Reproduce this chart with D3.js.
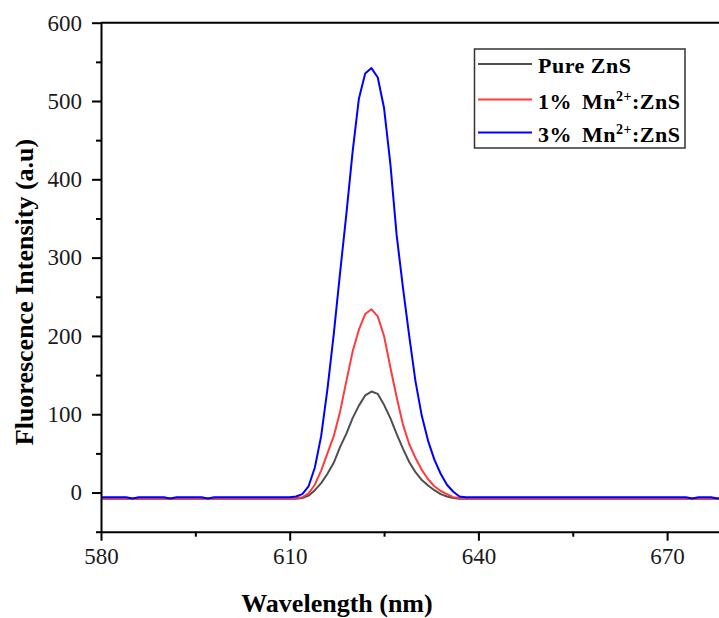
<!DOCTYPE html>
<html>
<head>
<meta charset="utf-8">
<script src="https://cdn.jsdelivr.net/npm/d3@7"></script>
<style>
  html, body { margin: 0; padding: 0; background: #fff; }
  svg { display: block; }
  text { font-family: "Liberation Serif", "Times New Roman", serif; }
</style>
</head>
<body>
<svg id="chart" width="719" height="618"></svg>
<script>
// ---------------- data ----------------
const wavelengths = [580, 584, 585, 586, 590, 591, 592, 596, 597, 598, 602, 606, 609,
  610, 611, 612, 613, 614, 615, 616, 617, 618, 619, 620, 621, 622, 623, 624, 625, 626,
  627, 628, 629, 630, 631, 632, 633, 634, 635, 636, 637, 638,
  640, 645, 650, 655, 660, 665, 670, 673, 674, 675, 677, 678, 680];

const pureZnS = [-8, -8, -8, -8, -8, -8, -8, -8, -8, -8, -8, -8, -8,
  -8, -8, -7, -4, 3, 12, 24, 38, 58, 75, 95, 111, 124, 129, 126, 112, 95,
  75, 56, 39, 26, 16, 9, 3, -2, -5, -7, -8, -8,
  -8, -8, -8, -8, -8, -8, -8, -8, -8, -8, -8, -8, -8];

const mn1ZnS = [-7.5, -7.5, -7.5, -7.5, -7.5, -7.5, -7.5, -7.5, -7.5, -7.5, -7.5, -7.5, -7.5,
  -7.5, -7, -6, -1, 10, 28, 50, 72, 103, 142, 180, 208, 228, 234, 225, 200, 160,
  122, 87, 62, 44, 29, 17, 8, 2, -2, -6, -7, -7.5,
  -7.5, -7.5, -7.5, -7.5, -7.5, -7.5, -7.5, -7.5, -7.5, -7.5, -7.5, -7.5, -7.5];

const mn3ZnS = [-6, -6, -7.5, -6, -6, -7.5, -6, -6, -7.5, -6, -6, -6, -6,
  -6, -5, -2, 8, 32, 72, 132, 202, 280, 355, 435, 503, 535, 542, 530, 491, 420,
  329, 262, 200, 142, 98, 66, 42, 24, 10, 1, -5, -6,
  -6, -6, -6, -6, -6, -6, -6, -6, -7.5, -6, -6, -7.5, -6];

const seriesNames = ["Pure ZnS", "1% Mn", "3% Mn"];
const seriesColors = ["#4f4f4f", "#ff3b3b", "#0000ff"];
const xTickValues = [580, 610, 640, 670];
const xMinorTicks = [595, 625, 655];
const yTickValues = [0, 100, 200, 300, 400, 500, 600];
const yMinorTicks = [-50, 50, 150, 250, 350, 450, 550];

// ---------------- layout ----------------
const svg = d3.select("#chart");
const x = d3.scaleLinear().domain([580, 680]).range([101, 730]);
const y = d3.scaleLinear().domain([-50, 600]).range([531.7, 22.7]);

// top border
svg.append("line")
  .attr("x1", x(580)).attr("x2", 730)
  .attr("y1", y(600)).attr("y2", y(600))
  .attr("stroke", "#000").attr("stroke-width", 2);

// curves
const line = d3.line().x((d, i) => x(wavelengths[i])).y(d => y(d));
[pureZnS, mn1ZnS, mn3ZnS].forEach((vals, k) => {
  svg.append("path")
    .datum(vals)
    .attr("d", line)
    .attr("fill", "none")
    .attr("stroke", seriesColors[k])
    .attr("stroke-width", 2)
    .attr("stroke-linejoin", "round");
});

// axes
const fontTick = "23px";
function styleAxis(g) {
  g.select(".domain").attr("stroke", "#000").attr("stroke-width", 2);
  g.selectAll(".tick line").attr("stroke", "#000").attr("stroke-width", 2);
  g.selectAll(".tick text")
    .attr("font-family", "Liberation Serif, Times New Roman, serif")
    .attr("font-size", fontTick).attr("fill", "#1a1a1a");
}

const gxMinor = svg.append("g").attr("transform", `translate(0,${y(-50)})`)
  .call(d3.axisBottom(x).tickValues(xMinorTicks).tickSize(5).tickSizeOuter(0).tickFormat(""));
styleAxis(gxMinor);
gxMinor.select(".domain").remove();

const gx = svg.append("g").attr("transform", `translate(0,${y(-50)})`)
  .call(d3.axisBottom(x).tickValues(xTickValues).tickSize(9).tickSizeOuter(0).tickPadding(7).tickFormat(d3.format("d")));
styleAxis(gx);

const gyMinor = svg.append("g").attr("transform", `translate(${x(580)},0)`)
  .call(d3.axisLeft(y).tickValues(yMinorTicks).tickSize(5).tickSizeOuter(0).tickFormat(""));
styleAxis(gyMinor);
gyMinor.select(".domain").remove();

const gy = svg.append("g").attr("transform", `translate(${x(580)},0)`)
  .call(d3.axisLeft(y).tickValues(yTickValues).tickSize(9).tickSizeOuter(0).tickPadding(10).tickFormat(d3.format("d")));
styleAxis(gy);

// axis titles
svg.append("text")
  .attr("x", 337).attr("y", 612)
  .attr("text-anchor", "middle")
  .attr("font-weight", "bold").attr("font-size", "26px").attr("fill", "#000")
  .text("Wavelength (nm)");

svg.append("text")
  .attr("transform", "translate(33,292) rotate(-90)")
  .attr("text-anchor", "middle")
  .attr("font-weight", "bold").attr("font-size", "26px").attr("fill", "#000")
  .text("Fluorescence Intensity (a.u)");

// legend
const legend = svg.append("g");
legend.append("rect")
  .attr("x", 474.5).attr("y", 49).attr("width", 210.5).attr("height", 99)
  .attr("fill", "#fff").attr("stroke", "#333").attr("stroke-width", 1.5);
const rowsY = [64, 99.5, 132.5];
rowsY.forEach((ry, k) => {
  legend.append("line")
    .attr("x1", 478).attr("x2", 532).attr("y1", ry).attr("y2", ry)
    .attr("stroke", seriesColors[k]).attr("stroke-width", 2);
  const t = legend.append("text")
    .attr("x", 538).attr("y", ry + 9)
    .attr("font-weight", "bold").attr("font-size", "22px").attr("fill", "#000")
    .attr("letter-spacing", "0.5px");
  if (k === 0) {
    t.text(seriesNames[0]);
  } else {
    t.append("tspan").text(seriesNames[k].split(" ")[0]);
    t.append("tspan").attr("dx", 10).text(seriesNames[k].split(" ")[1]);
    t.append("tspan").attr("dy", -8).attr("font-size", "14px").text("2+");
    t.append("tspan").attr("dy", 8).text(":ZnS");
  }
});
</script>
</body>
</html>
